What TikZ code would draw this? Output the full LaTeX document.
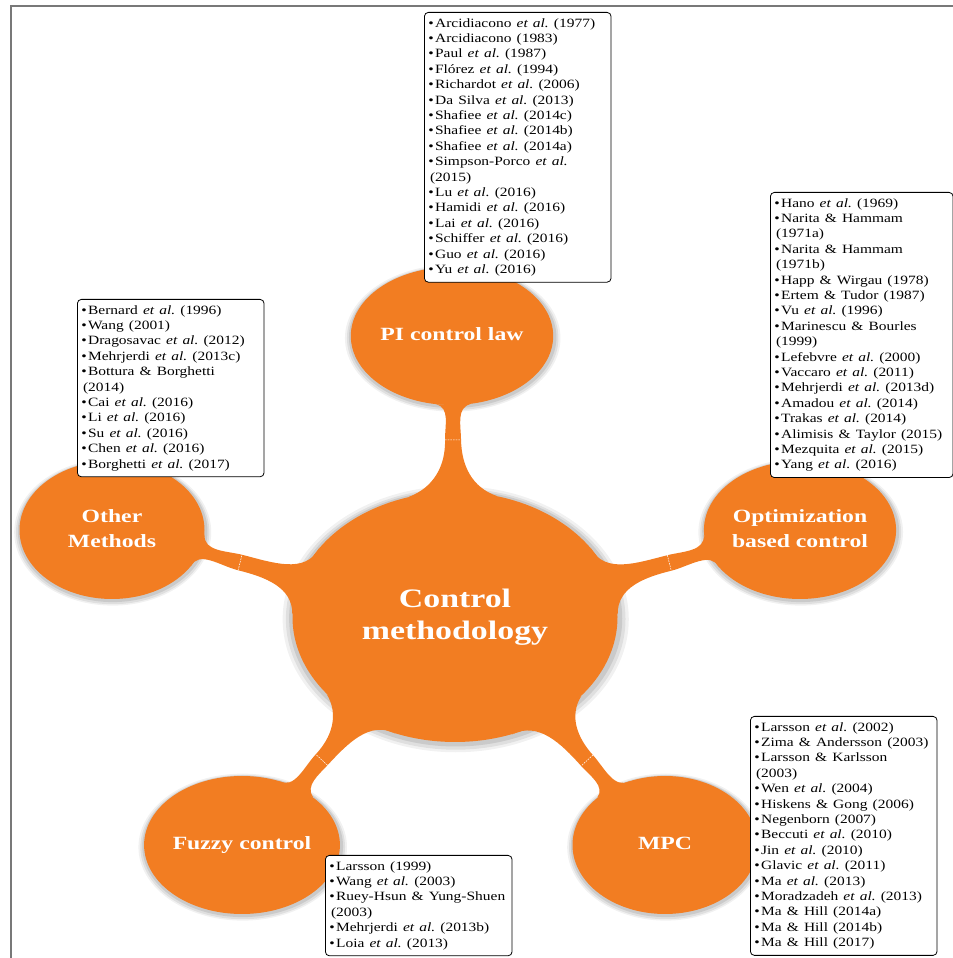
\documentclass[tikz,border=0pt]{standalone}
\usepackage{fontspec}
\setmainfont{Liberation Serif}
\usepackage{graphicx}
\usepackage{xcolor}
\usepackage{tikz}
\usetikzlibrary{shapes.geometric, shadows, positioning, calc}

\definecolor{mmorange}{RGB}{242,125,34}
\definecolor{framegray}{RGB}{120,120,120}

\frenchspacing
\newcommand{\etal}{\textit{et al.}}
\newcommand{\itm}{\textbullet\hspace{0.8pt}}
\newcommand{\refcol}[1]{\scalebox{1.22}[1]{\begin{tabular}{@{}l@{}}#1\end{tabular}}}
\newcommand{\bub}[1]{\scalebox{1.27}[1]{\begin{tabular}{@{}c@{}}#1\end{tabular}}}

\begin{document}
\begin{tikzpicture}[
    x=0.75pt, y=0.75pt,
    halo/.style={
        drop shadow={shadow scale=1.065, shadow xshift=0.5pt, shadow yshift=-1.5pt, fill=black!45, opacity=0.12},
        drop shadow={shadow scale=1.045, shadow xshift=0.5pt, shadow yshift=-1.5pt, fill=black!45, opacity=0.18},
        drop shadow={shadow scale=1.025, shadow xshift=0.5pt, shadow yshift=-1pt, fill=black!45, opacity=0.25}},
    hub/.style={ellipse, fill=mmorange, text=white, inner sep=0pt, minimum width=243.75pt, minimum height=187.5pt, font=\fontsize{20}{24}\selectfont\bfseries, halo},
    topic/.style={ellipse, fill=mmorange, text=white, inner sep=0pt, minimum width=138.75pt, minimum height=103.5pt, font=\fontsize{14}{18.5}\selectfont\bfseries, halo},
    reflist/.style={rectangle, draw, rounded corners=3pt, fill=white, line width=0.6pt, anchor=north west, inner xsep=3pt, inner ysep=3pt, text width=134pt, align=left, font=\fontsize{9.5}{11.55}\selectfont},
    link/.style={fill=mmorange},
    seam/.style={white, line width=0.4pt, dash pattern=on 1.2pt off 0.8pt}
]
    \useasboundingbox (0,0) rectangle (953,958);

    % Frame
    \draw[framegray, line width=1.3pt] (11,0) -- (11,952) -- (953,952);

    % Central node
    \node[hub] (cm) at (455,341) {\bub{Control\\methodology}};

    % Topic bubbles
    \node[topic] (pi) at (452,622) {\bub{PI control law}};
    \node[topic] (oth) at (112,428) {\bub{Other\\Methods}};
    \node[topic] (opt) at (800,428) {\bub{Optimization\\based control}};
    \node[topic] (fuz) at (242,113) {\bub{Fuzzy control}};
    \node[topic] (mpc) at (665,113) {\bub{MPC}};

    % Connectors
    \foreach \kid/\dir/\sa/\sb in {pi/91/20/14, oth/166/13/11, opt/14/13/11, fuz/227/16/13, mpc/312/16/13}{
        \pgfmathtruncatemacro\aP{mod(\dir+\sa,360)}
        \pgfmathtruncatemacro\aM{mod(\dir-\sa+360,360)}
        \pgfmathtruncatemacro\bO{mod(\dir+180,360)}
        \pgfmathtruncatemacro\bP{mod(\dir+180-\sb,360)}
        \pgfmathtruncatemacro\bM{mod(\dir+180+\sb,360)}
        \pgfmathsetmacro\oA{\aP-90}
        \pgfmathsetmacro\iA{\dir+180}
        \pgfmathsetmacro\iB{\dir+270-\sb}
        \pgfmathsetmacro\oC{\dir+90+\sb}
        \pgfmathsetmacro\iD{\aM+90}
        \coordinate (nk) at ($(cm.\dir)!0.6!(\kid.\bO)$);
        \coordinate (np) at ($(nk)!6pt!90:(\kid)$);
        \coordinate (nm) at ($(nk)!6pt!-90:(\kid)$);
        \fill[link] (cm.\aP) to[out=\oA, in=\iA] (np) to[out=\dir, in=\iB] (\kid.\bP)
            -- (\kid.\bM) to[out=\oC, in=\dir] (nm) to[out=\iA, in=\iD] (cm.\aM) -- cycle;
        \draw[seam] (np) -- (nm);
    }

    % Reference lists
    \node[reflist] (pilist) at (424,946) {\refcol{%
        \itm Arcidiacono \etal{} (1977)\\
        \itm Arcidiacono (1983)\\
        \itm Paul \etal{} (1987)\\
        \itm Flórez \etal{} (1994)\\
        \itm Richardot \etal{} (2006)\\
        \itm Da Silva \etal{} (2013)\\
        \itm Shafiee \etal{} (2014c)\\
        \itm Shafiee \etal{} (2014b)\\
        \itm Shafiee \etal{} (2014a)\\
        \itm Simpson-Porco \etal{}\\
        \hspace*{1pt}(2015)\\
        \itm Lu \etal{} (2016)\\
        \itm Hamidi \etal{} (2016)\\
        \itm Lai \etal{} (2016)\\
        \itm Schiffer \etal{} (2016)\\
        \itm Guo \etal{} (2016)\\
        \itm Yu \etal{} (2016)}};
    \node[reflist] (othlist) at (77,659) {\refcol{%
        \itm Bernard \etal{} (1996)\\
        \itm Wang (2001)\\
        \itm Dragosavac \etal{} (2012)\\
        \itm Mehrjerdi \etal{} (2013c)\\
        \itm Bottura \& Borghetti\\
        \hspace*{1pt}(2014)\\
        \itm Cai \etal{} (2016)\\
        \itm Li \etal{} (2016)\\
        \itm Su \etal{} (2016)\\
        \itm Chen \etal{} (2016)\\
        \itm Borghetti \etal{} (2017)}};
    \node[reflist, text width=131pt] (optlist) at (770,766) {\refcol{%
        \itm Hano \etal{} (1969)\\
        \itm Narita \& Hammam\\
        \hspace*{1pt}(1971a)\\
        \itm Narita \& Hammam\\
        \hspace*{1pt}(1971b)\\
        \itm Happ \& Wirgau (1978)\\
        \itm Ertem \& Tudor (1987)\\
        \itm Vu \etal{} (1996)\\
        \itm Marinescu \& Bourles\\
        \hspace*{1pt}(1999)\\
        \itm Lefebvre \etal{} (2000)\\
        \itm Vaccaro \etal{} (2011)\\
        \itm Mehrjerdi \etal{} (2013d)\\
        \itm Amadou \etal{} (2014)\\
        \itm Trakas \etal{} (2014)\\
        \itm Alimisis \& Taylor (2015)\\
        \itm Mezquita \etal{} (2015)\\
        \itm Yang \etal{} (2016)}};
    \node[reflist] (mpclist) at (750,242) {\refcol{%
        \itm Larsson \etal{} (2002)\\
        \itm Zima \& Andersson (2003)\\
        \itm Larsson \& Karlsson\\
        \hspace*{1pt}(2003)\\
        \itm Wen \etal{} (2004)\\
        \itm Hiskens \& Gong (2006)\\
        \itm Negenborn (2007)\\
        \itm Beccuti \etal{} (2010)\\
        \itm Jin \etal{} (2010)\\
        \itm Glavic \etal{} (2011)\\
        \itm Ma \etal{} (2013)\\
        \itm Moradzadeh \etal{} (2013)\\
        \itm Ma \& Hill (2014a)\\
        \itm Ma \& Hill (2014b)\\
        \itm Ma \& Hill (2017)}};
    \node[reflist] (fuzlist) at (325,103) {\refcol{%
        \itm Larsson (1999)\\
        \itm Wang \etal{} (2003)\\
        \itm Ruey-Hsun \& Yung-Shuen\\
        \hspace*{1pt}(2003)\\
        \itm Mehrjerdi \etal{} (2013b)\\
        \itm Loia \etal{} (2013)}};

\end{tikzpicture}
\end{document}
